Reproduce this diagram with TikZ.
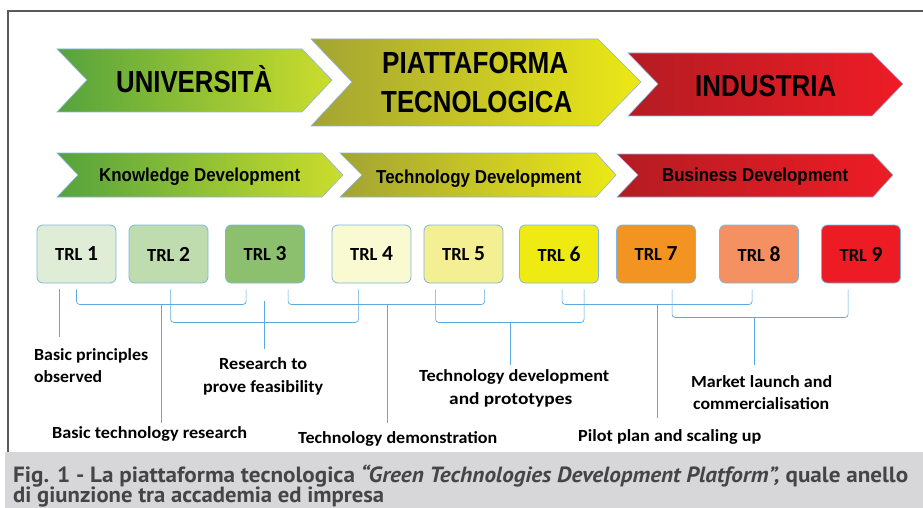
\documentclass[tikz,border=0pt]{standalone}
\usepackage{fontspec}
\usepackage{graphicx}
\usetikzlibrary{calc}
\newfontfamily\arwfont{Liberation Sans}
\newfontfamily\calfont{Carlito}
\newfontfamily\capfont{PT Sans}
\newcommand\fitw[2]{\resizebox{#1}{\height}{#2}}
\newcommand\trltext[1]{{\fontsize{18.5}{18.5}\selectfont TRL}\hspace{4.5pt}{\fontsize{21.5}{21.5}\selectfont #1}}
\definecolor{uniL}{HTML}{55A33E}
\definecolor{uniR}{HTML}{CBDD2C}
\definecolor{piaL}{HTML}{A3A433}
\definecolor{piaR}{HTML}{ECE817}
\definecolor{indL}{HTML}{B51C23}
\definecolor{indR}{HTML}{EE1C25}
\definecolor{arwline}{HTML}{8DB4E0}
\definecolor{brkcol}{HTML}{5AAAE0}
\definecolor{trlborder}{HTML}{7DB6DE}
\definecolor{cA}{HTML}{DFECD6}
\definecolor{cB}{HTML}{BEDCAE}
\definecolor{cC}{HTML}{8DC06E}
\definecolor{cD}{HTML}{FAFAD2}
\definecolor{cE}{HTML}{F5EF94}
\definecolor{cF}{HTML}{EEEA12}
\definecolor{cG}{HTML}{F39322}
\definecolor{cH}{HTML}{F59062}
\definecolor{cI}{HTML}{ED1C24}
\definecolor{framecol}{HTML}{5A5A5A}
\definecolor{capbg}{HTML}{D7D7D9}
\definecolor{captext}{HTML}{454545}
\tikzset{
  arw/.style={draw=arwline, line width=0.6pt},
  bigtxt/.style={font=\arwfont\bfseries\fontsize{30.5}{32}\selectfont, inner sep=0, anchor=base west},
  midtxt/.style={font=\arwfont\bfseries\fontsize{18.7}{20}\selectfont, inner sep=0, anchor=base west},
  trlbox/.style={draw=trlborder, line width=0.8pt, rounded corners=6pt, minimum width=79pt, minimum height=58pt, inner sep=0, font=\calfont\bfseries},
  lbl/.style={font=\calfont\bfseries\fontsize{17}{20}\selectfont, inner sep=0, anchor=base west},
  brk/.style={draw=brkcol, line width=0.7pt, rounded corners=3pt},
  captxt/.style={font=\capfont\bfseries\fontsize{22}{24}\selectfont, text=captext, inner sep=0, anchor=base west}
}
\begin{document}
\begin{tikzpicture}[x=1pt,y=-1pt]
\useasboundingbox (0,0) rectangle (923,508);
% frame and caption band
\fill[capbg] (5,452) rectangle (923,508);
\draw[framecol, line width=1.2pt] (8,452) -- (8,11) -- (923,11);
% top arrows
\path[arw, left color=uniL, right color=uniR] (57,49) -- (302,49) -- (332,80) -- (302,112) -- (57,112) -- (87,80) -- cycle;
\path[arw, left color=piaL, right color=piaR] (311,39) -- (598,39) -- (641,82) -- (598,126) -- (311,126) -- (352,82) -- cycle;
\path[arw, left color=indL, right color=indR] (628,53) -- (872,53) -- (903,84) -- (872,116) -- (628,116) -- (658,84) -- cycle;
\node[bigtxt] (tuni) at (116,93) {\fitw{156pt}{UNIVERSITÀ}};
\node[bigtxt] (tpia1) at (382,74) {\fitw{186pt}{PIATTAFORMA}};
\node[bigtxt] (tpia2) at (381,113) {\fitw{191pt}{TECNOLOGICA}};
\node[bigtxt] (tind) at (695,97) {\fitw{141pt}{INDUSTRIA}};
% second row arrows
\path[arw, left color=uniL, right color=uniR] (57,153) -- (322,153) -- (343,175) -- (322,197) -- (57,197) -- (78,175) -- cycle;
\path[arw, left color=piaL, right color=piaR] (340,153) -- (596,153) -- (616,175) -- (596,197) -- (340,197) -- (362,175) -- cycle;
\path[arw, left color=indL, right color=indR] (617,154) -- (873,154) -- (893,175) -- (873,197) -- (617,197) -- (638,175) -- cycle;
\node[midtxt] (tkd) at (99,182) {\fitw{201pt}{Knowledge Development}};
\node[midtxt] (ttd) at (376,183) {\fitw{205pt}{Technology Development}};
\node[midtxt] (tbd) at (662,182) {\fitw{186pt}{Business Development}};
% TRL boxes
\node[trlbox, fill=cA] (b1) at (76.5,254) {\trltext{1}};
\node[trlbox, fill=cB] (b2) at (168.5,254) {\trltext{2}};
\node[trlbox, fill=cC] (b3) at (265,254) {\trltext{3}};
\node[trlbox, fill=cD] (b4) at (371.5,254) {\trltext{4}};
\node[trlbox, fill=cE] (b5) at (463.5,254) {\trltext{5}};
\node[trlbox, fill=cF] (b6) at (559,254) {\trltext{6}};
\node[trlbox, fill=cG] (b7) at (656,254) {\trltext{7}};
\node[trlbox, fill=cH] (b8) at (759,254) {\trltext{8}};
\node[trlbox, fill=cI] (b9) at (861,254) {\trltext{9}};
% labels
\node[lbl] (lp1) at (34,360) {\fitw{114pt}{Basic principles}};
\node[lbl] (lp2) at (34,382) {\fitw{68pt}{observed}};
\node[lbl] (lbt) at (52,438) {\fitw{195pt}{Basic technology research}};
\node[lbl] (lr1) at (219,369) {\fitw{88pt}{Research to}};
\node[lbl] (lr2) at (203,392) {\fitw{120pt}{prove feasibility}};
\node[lbl] (ltd) at (298,443) {\fitw{199pt}{Technology demonstration}};
\node[lbl] (ldv1) at (419,381) {\fitw{190pt}{Technology development}};
\node[lbl] (ldv2) at (449,404) {\fitw{123pt}{and prototypes}};
\node[lbl] (lpp) at (578,441) {\fitw{183pt}{Pilot plan and scaling up}};
\node[lbl] (lm1) at (691,387) {\fitw{141pt}{Market launch and}};
\node[lbl] (lm2) at (693,409) {\fitw{136pt}{commercialisation}};
% bracket end points
\coordinate (a0) at ($(b1.south west)+(23,6)$);
\coordinate (a1) at ($(b1.south)+(0,6)$);
\coordinate (e1) at ($(b3.south west)+(21,6)$);
\coordinate (a2) at ($(b2.south west)+(42,6)$);
\coordinate (e2) at ($(b4.south west)+(27,6)$);
\coordinate (a3) at ($(b3.south west)+(63,6)$);
\coordinate (e3) at ($(b5.south west)+(61,6)$);
\coordinate (a4) at ($(b5.south west)+(12,6)$);
\coordinate (e4) at ($(b6.south west)+(65,6)$);
\coordinate (a5) at ($(b6.south west)+(43,6)$);
\coordinate (e5) at ($(b8.south west)+(33,6)$);
\coordinate (a6) at ($(b7.south west)+(56,6)$);
\coordinate (e6) at ($(b9.south west)+(27,6)$);
\coordinate (s1) at (161,304);
\coordinate (s2) at (264,301);
\coordinate (s3) at (387,304);
\coordinate (s4) at (510,322);
\coordinate (s5) at (657,304);
\coordinate (s6) at (754,317);
% brackets
\draw[brk] (a1) -- ++(0,15) -| (e1);
\draw[brk] (a2) -- ++(0,33) -| (e2);
\draw[brk] (a3) -- ++(0,15) -| (e3);
\draw[brk] (a4) -- ++(0,33) -| (e4);
\draw[brk] (a5) -- ++(0,15) -| (e5);
\draw[brk] (a6) -- ++(0,28) -| (e6);
% stems
\draw[brk, shorten >=11pt] (a0) -- (a0 |- lp1.north);
\draw[brk, shorten >=3pt] (s1) -- (s1 |- lbt.north);
\draw[brk, shorten >=8pt] (s2) -- (s2 |- lr1.north);
\draw[brk, shorten >=8pt] (s3) -- (s3 |- ltd.north);
\draw[brk, shorten >=4pt] (s4) -- (s4 |- ldv1.north);
\draw[brk, shorten >=11pt] (s5) -- (s5 |- lpp.north);
\draw[brk, shorten >=10pt] (s6) -- (s6 |- lm1.north);
% caption
\node[captxt] (cap1) at (13,482) {\fitw{895pt}{Fig. 1 - La piattaforma tecnologica \textit{“Green Technologies Development Platform”,} quale anello}};
\node[captxt] (cap2) at (13,502) {\fitw{371pt}{di giunzione tra accademia ed impresa}};
\end{tikzpicture}
\end{document}
